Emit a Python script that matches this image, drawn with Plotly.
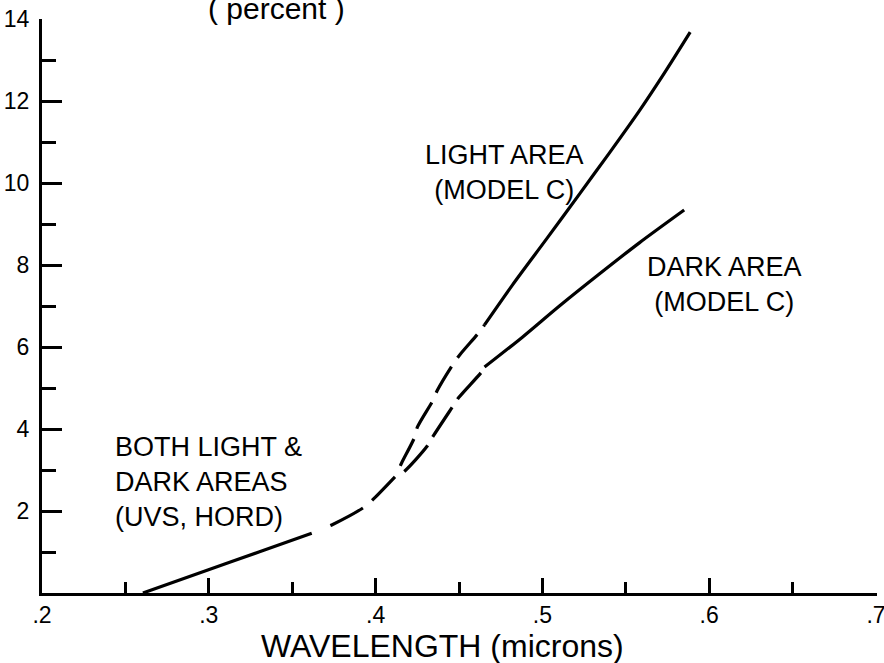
import plotly.graph_objects as go

# ---- data (wavelength in microns, reflectance in percent) ----
common_solid_x = [0.2605, 0.2994, 0.3300, 0.3617]
common_solid_y = [0.0, 0.56, 1.00, 1.46]
common_dash_x = [0.3617, 0.3737, 0.3934, 0.3994, 0.4120]
common_dash_y = [1.46, 1.66, 2.10, 2.32, 2.85]

light_dash_x = [0.4120, 0.4156, 0.4234, 0.4251, 0.4341, 0.4371, 0.4461, 0.4503, 0.4623, 0.4653]
light_dash_y = [2.85, 3.17, 3.80, 4.05, 4.68, 4.95, 5.56, 5.80, 6.37, 6.54]
light_solid_x = [0.4653, 0.4820, 0.5024, 0.5222, 0.5401, 0.5581, 0.5731, 0.5886]
light_solid_y = [6.54, 7.51, 8.63, 9.73, 10.73, 11.76, 12.68, 13.68]

dark_dash_x = [0.4120, 0.4162, 0.4305, 0.4341, 0.4461, 0.4497, 0.4635, 0.4653]
dark_dash_y = [2.85, 2.93, 3.56, 3.80, 4.54, 4.76, 5.39, 5.51]
dark_solid_x = [0.4653, 0.4880, 0.5102, 0.5341, 0.5581, 0.5850]
dark_solid_y = [5.51, 6.24, 7.00, 7.78, 8.54, 9.34]

x_major_vals = [0.2, 0.3, 0.4, 0.5, 0.6, 0.7]
x_major_text = [".2", ".3", ".4", ".5", ".6", ".7"]
x_minor_vals = [0.25, 0.35, 0.45, 0.55, 0.65]
y_major_vals = [2, 4, 6, 8, 10, 12, 14]
y_major_text = ["2", "4", "6", "8", "10", "12", "14"]
y_minor_vals = [1, 3, 5, 7, 9, 11, 13]

X_RANGE = [0.2, 0.7006]
Y_RANGE = [0, 14]

FONT = "Liberation Sans, Arial, sans-serif"
DASH_COMMON = "0px,20px,37px,12px,33px,0px"
DASH_LIGHT = "0px,11px,30px,0px"
DASH_DARK = "0px,10px,35px,0px"

fig = go.Figure()
segments = [
    (common_solid_x, common_solid_y, "solid"),
    (common_dash_x, common_dash_y, DASH_COMMON),
    (light_dash_x, light_dash_y, DASH_LIGHT),
    (light_solid_x, light_solid_y, "solid"),
    (dark_dash_x, dark_dash_y, DASH_DARK),
    (dark_solid_x, dark_solid_y, "solid"),
]
for xs, ys, d in segments:
    fig.add_trace(go.Scatter(x=xs, y=ys, mode="lines",
                             line=dict(color="black", width=3.2, dash=d, shape="spline", smoothing=0.8),
                             showlegend=False, hoverinfo="skip"))

# invisible carrier traces for the overlaid tick axes
fig.add_trace(go.Scatter(x=[x_minor_vals[0]], y=[y_minor_vals[0]], xaxis="x2", yaxis="y2",
                         mode="markers", marker=dict(opacity=0), showlegend=False, hoverinfo="skip"))
fig.add_trace(go.Scatter(x=[x_minor_vals[0]], y=[y_minor_vals[0]], xaxis="x3", yaxis="y",
                         mode="markers", marker=dict(opacity=0), showlegend=False, hoverinfo="skip"))

fig.update_layout(
    xaxis=dict(range=X_RANGE, showgrid=False, zeroline=False,
               showline=True, linecolor="black", linewidth=3,
               tickmode="array", tickvals=x_major_vals, ticktext=x_major_text,
               ticks="", automargin=False,
               tickfont=dict(family=FONT, size=23, color="black"),
               ticklabelstandoff=-1, ticklabeloverflow="allow"),
    yaxis=dict(range=Y_RANGE, showgrid=False, zeroline=False,
               showline=True, linecolor="black", linewidth=3,
               tickmode="array", tickvals=y_major_vals, ticktext=y_major_text,
               ticks="inside", ticklen=20, tickwidth=2.5, tickcolor="black",
               automargin=False,
               tickfont=dict(family=FONT, size=23, color="black"),
               ticklabelstandoff=5, ticklabeloverflow="allow"),
    xaxis2=dict(range=X_RANGE, overlaying="x", anchor="y", side="bottom",
                showgrid=False, zeroline=False, showline=False, showticklabels=False,
                tickmode="array", tickvals=x_minor_vals, automargin=False,
                ticks="inside", ticklen=11, tickwidth=2.5, tickcolor="black"),
    xaxis3=dict(range=X_RANGE, overlaying="x", anchor="y", side="bottom",
                showgrid=False, zeroline=False, showline=False, showticklabels=False,
                tickmode="array", tickvals=x_major_vals, automargin=False,
                ticks="inside", ticklen=15, tickwidth=2.5, tickcolor="black"),
    yaxis2=dict(range=Y_RANGE, overlaying="y", anchor="x", side="left",
                showgrid=False, zeroline=False, showline=False, showticklabels=False,
                tickmode="array", tickvals=y_minor_vals, automargin=False,
                ticks="inside", ticklen=14, tickwidth=2.5, tickcolor="black"),
)

def label(text, x, y, align="center", xanchor="center", size=27):
    fig.add_annotation(text=text, x=x, y=y, xref="x", yref="y", showarrow=False,
                       align=align, xanchor=xanchor, yanchor="middle",
                       font=dict(family=FONT, size=size, color="black"))

label("LIGHT AREA<br>(MODEL C)", 0.4772, 10.26)
label("DARK AREA<br>(MODEL C)", 0.6090, 7.52)
label("BOTH LIGHT &amp;<br>DARK AREAS<br>(UVS, HORD)", 0.2425, 2.71, align="left", xanchor="left")

W, H, L, R, T, B = 884, 663, 42, 7, 19, 70
pw, ph = W - L - R, H - T - B
fig.add_annotation(text="WAVELENGTH (microns)", x=(442 - L) / pw, y=(H - B - 646) / ph,
                   xref="paper", yref="paper", xanchor="center", yanchor="middle",
                   showarrow=False, font=dict(family=FONT, size=32, color="black"))
fig.add_annotation(text="( percent )", x=(276 - L) / pw, y=(H - B - 8) / ph,
                   xref="paper", yref="paper", xanchor="center", yanchor="middle",
                   showarrow=False, font=dict(family=FONT, size=30, color="black"))

fig.update_layout(width=884, height=663,
                  margin=dict(l=L, r=R, t=T, b=B, autoexpand=False),
                  plot_bgcolor="white", paper_bgcolor="white")

fig.write_html("out.html")
